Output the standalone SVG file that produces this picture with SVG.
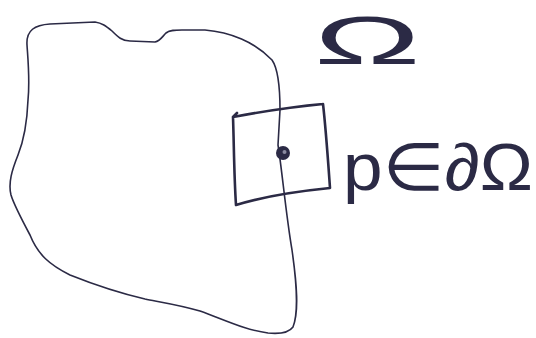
<svg xmlns="http://www.w3.org/2000/svg" width="536" height="338" viewBox="0 0 536 338">
<style>
.ink{fill:none;stroke:#2b2a45;stroke-linecap:round;stroke-linejoin:round}
.lbl{font-family:"Liberation Sans","DejaVu Sans",sans-serif;fill:#2b2a45}
</style>
<rect width="536" height="338" fill="#ffffff"/>
<g id="region">
<path class="ink" stroke-width="1.6" d="M27,45 C26,30 35,25 50,24 L95,22 C102,23 106,26 112,31 C118,37 122,41 130,41 L155,42 C160,41 162,37 166,33 C170,30 175,30 182,30 L205,30 C230,32 255,42 272,60 C279,70 280,90 280,110 L278,145 C282,170 286,215 292,250 C297,285 299,312 293,327 C288,334 278,334 268,333 C245,330 225,320 200,311 C180,305 160,302 145,299 C115,292 90,283 70,275 C50,265 38,255 30,235 C22,220 14,205 11,195 C8,183 12,170 18,155 C24,140 27,125 28,100 C30,80 28,60 27,45 Z"/>
</g>
<g id="neighborhood">
<path class="ink" stroke-width="2.6" d="M233,117 C260,112 290,107 323,104 M323,104 C326,130 328,160 330,188 M330,188 C300,191 265,196 236,205 M236,205 C234,175 234,145 233,117 M233,117 L237,113"/>
</g>
<g id="point">
<circle cx="283" cy="153" r="7" fill="#2b2a45"/>
<circle cx="284.5" cy="152" r="2" fill="#8a8aa0"/>
</g>
<g id="label-omega">
<text class="lbl" x="0" y="0" font-size="68" transform="translate(314,64) scale(2.1,1)">Ω</text>
</g>
<g id="label-boundary">
<text class="lbl" x="343" y="190" font-size="66" textLength="190" lengthAdjust="spacingAndGlyphs">p∈∂Ω</text>
</g>
</svg>
